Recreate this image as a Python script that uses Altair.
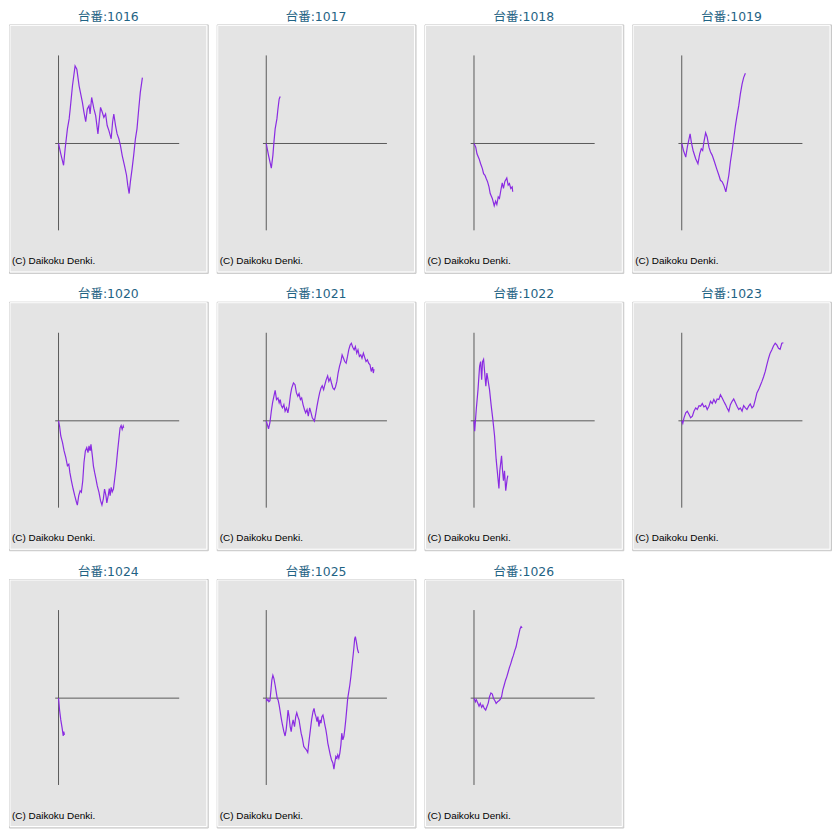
import altair as alt
import pandas as pd

# ---------------- data (games played vs. coin difference) ----------------
MACHINES = ["1016", "1017", "1018", "1019", "1020", "1021",
            "1022", "1023", "1024", "1025", "1026"]

G_1016 = [0, 130, 290, 380, 510, 610, 670, 800, 950, 1050, 1180, 1370, 1460, 1560,
          1650, 1750, 1810, 1900, 2030, 2130, 2260, 2410, 2510, 2600, 2700, 2790,
          2890, 3020, 3100, 3170, 3270, 3360, 3460, 3550, 3650, 3780, 3900, 3970,
          4050, 4120, 4220, 4310, 4410, 4500, 4600, 4690, 4810]
D_1016 = [0, -590, -1250, -300, 840, 1410, 1980, 3310, 4450, 4260, 3310, 2360, 1790,
          1250, 1980, 2170, 1690, 2640, 1980, 1600, 550, 2070, 1790, 1500, 1690, 1030,
          740, 270, 1220, 1690, 1030, 550, 270, -110, -680, -1250, -1820, -2390,
          -2870, -2200, -1440, -680, 270, 840, 1980, 2930, 3780]

G_1017 = [0, 130, 290, 380, 440, 510, 610, 670, 740, 800]
D_1017 = [0, -680, -1410, -680, 80, 840, 1410, 1980, 2550, 2700]

G_1018 = [0, 100, 170, 290, 380, 480, 550, 630, 700, 780, 860, 930, 1050, 1160,
          1240, 1310, 1390, 1460, 1540, 1620, 1690, 1770, 1880, 1960, 2030, 2110,
          2190, 2220]
D_1018 = [0, -210, -590, -870, -1160, -1440, -1730, -1820, -2010, -2200, -2490,
          -2870, -3150, -3570, -3310, -3500, -3060, -3150, -2680, -2260, -2580,
          -2170, -1980, -2390, -2300, -2580, -2490, -2770]

G_1019 = [0, 100, 230, 320, 420, 480, 550, 650, 800, 930, 1030, 1120, 1200, 1270,
          1370, 1460, 1560, 1650, 1750, 1880, 2000, 2130, 2220, 2320, 2410, 2530,
          2600, 2700, 2790, 2890, 2980, 3080, 3170, 3270, 3360, 3460, 3550, 3650]
D_1019 = [0, -400, -780, -210, 270, 550, 80, -400, -870, -1160, -590, -300, -400,
          80, 610, 360, -210, -490, -680, -1060, -1440, -1820, -2110, -2200, -2390,
          -2770, -2390, -1820, -1060, -400, 270, 1030, 1600, 2170, 2830, 3400, 3780,
          4030]

G_1020 = [0, 60, 130, 230, 320, 420, 510, 590, 650, 740, 840, 930, 1030, 1080, 1160,
          1240, 1310, 1390, 1460, 1540, 1620, 1690, 1750, 1810, 1860, 1940, 2000,
          2070, 2150, 2220, 2320, 2410, 2490, 2570, 2640, 2720, 2770, 2850, 2910,
          2960, 3020, 3080, 3150, 3230, 3310, 3380, 3460, 3530, 3590, 3650, 3710,
          3740]
D_1020 = [0, -300, -870, -1250, -1730, -2110, -2580, -2490, -2960, -3440, -3910,
          -4290, -4670, -4830, -4290, -4010, -4100, -3440, -2390, -1730, -1540,
          -1820, -1440, -1730, -1350, -2010, -2580, -2960, -3340, -3720, -4100,
          -4580, -4830, -4480, -3910, -4290, -4710, -4290, -3880, -4290, -3820,
          -4070, -3910, -3250, -2580, -1820, -1060, -400, -270, -490, -300, -400]

G_1021 = [0, 60, 130, 210, 290, 360, 440, 510, 590, 670, 740, 800, 860, 930, 1010,
          1080, 1160, 1240, 1310, 1390, 1460, 1560, 1650, 1730, 1810, 1880, 1960,
          2030, 2110, 2190, 2260, 2340, 2410, 2490, 2570, 2640, 2760, 2830, 2910,
          2980, 3060, 3140, 3210, 3290, 3360, 3440, 3520, 3590, 3670, 3740, 3820,
          3900, 3970, 4050, 4120, 4200, 4280, 4350, 4430, 4500, 4580, 4660, 4730,
          4810, 4880, 4960, 5040, 5110, 5190, 5260, 5340, 5420, 5490, 5570, 5640,
          5720, 5800, 5870, 5950, 6020, 6100, 6140, 6180]
D_1021 = [0, -210, -460, -110, 550, 1030, 1410, 1750, 1220, 1310, 1030, 1220, 870,
          740, 930, 550, 740, 460, 840, 1500, 1880, 2170, 2070, 1600, 1410, 1560,
          1220, 1310, 930, 650, 460, 650, 270, 740, 460, 170, -20, 360, 840, 1220,
          1600, 1880, 2010, 1790, 2070, 2360, 2580, 2260, 2450, 2170, 1880, 1790,
          1940, 2260, 2740, 3120, 3400, 3780, 3590, 3400, 3310, 3690, 4070, 4350,
          4450, 4220, 4070, 4260, 3880, 4070, 3690, 3780, 3590, 3880, 3650, 3400,
          3500, 3310, 3210, 2830, 3080, 2740, 2960]

G_1022 = [0, 40, 130, 230, 320, 380, 440, 490, 550, 630, 680, 740, 800, 890, 990,
          1080, 1180, 1270, 1370, 1430, 1480, 1580, 1630, 1690, 1750, 1820, 1900,
          1940]
D_1022 = [0, -590, 650, 1790, 3120, 3400, 2360, 3400, 3530, 2550, 1980, 2740, 2360,
          1790, 840, 80, -870, -2200, -3250, -3880, -2870, -2010, -2770, -3440,
          -2870, -4010, -3340, -3150]

G_1023 = [0, 60, 130, 230, 320, 420, 510, 610, 700, 800, 890, 990, 1080, 1180,
          1270, 1370, 1460, 1560, 1650, 1750, 1840, 1940, 2030, 2130, 2220, 2320,
          2410, 2510, 2600, 2700, 2790, 2890, 2980, 3080, 3170, 3270, 3360, 3460,
          3550, 3650, 3740, 3840, 3930, 4030, 4120, 4220, 4310, 4410, 4500, 4600,
          4690, 4790, 4880, 4980, 5070, 5170, 5260, 5360, 5450, 5550, 5640, 5740,
          5830]
D_1023 = [0, -150, 170, 460, 550, 360, 170, 270, 550, 740, 650, 870, 840, 990, 800,
          870, 650, 840, 1120, 990, 1220, 1030, 1250, 1220, 1500, 1310, 1120, 930,
          740, 550, 930, 1120, 1250, 1030, 840, 650, 740, 550, 870, 740, 650, 840,
          970, 740, 840, 1220, 1600, 1790, 2010, 2260, 2510, 2830, 3210, 3590, 3880,
          4070, 4290, 4450, 4350, 4160, 4100, 4450, 4480]

G_1024 = [0, 60, 130, 210, 270, 300, 340]
D_1024 = [0, -680, -1250, -1730, -2170, -1920, -2110]

G_1025 = [0, 40, 100, 150, 210, 270, 320, 380, 440, 510, 570, 630, 680, 740, 800,
          860, 930, 1010, 1080, 1140, 1200, 1250, 1310, 1370, 1430, 1480, 1540,
          1620, 1690, 1750, 1810, 1880, 1940, 2000, 2070, 2150, 2220, 2300, 2380,
          2450, 2530, 2600, 2680, 2740, 2790, 2850, 2910, 2960, 3020, 3080, 3140,
          3190, 3250, 3310, 3360, 3420, 3480, 3530, 3590, 3670, 3740, 3820, 3880,
          3930, 3990, 4050, 4100, 4160, 4220, 4280, 4330, 4390, 4450, 4500, 4560,
          4620, 4670, 4730, 4790, 4850, 4900, 4960, 5020, 5070, 5110, 5170, 5230,
          5260, 5300]
D_1025 = [0, -150, -80, -210, -150, 460, 1030, 1310, 1120, 740, 360, -20, -110,
          -400, -780, -1160, -1540, -1920, -2170, -1820, -1250, -680, -1060, -1630,
          -1920, -1540, -1250, -1630, -1060, -840, -1060, -1250, -1630, -2010,
          -2300, -2770, -2870, -2960, -3120, -2490, -1820, -1250, -780, -590, -870,
          -1060, -1350, -1060, -1630, -1250, -1440, -1060, -970, -1250, -1540,
          -1820, -2200, -2580, -2870, -3250, -3530, -3720, -4070, -3720, -3340,
          -3440, -3250, -3440, -3150, -2680, -2010, -2390, -2200, -1820, -1250,
          -590, -20, 360, 740, 1220, 1690, 2260, 2830, 3400, 3530, 3210, 2830, 2700,
          2580]

G_1026 = [0, 80, 130, 210, 290, 360, 440, 510, 590, 670, 740, 820, 890, 970, 1050,
          1120, 1200, 1270, 1350, 1430, 1500, 1580, 1650, 1730, 1810, 1880, 1960,
          2030, 2110, 2190, 2260, 2340, 2410, 2490, 2570, 2640, 2700, 2760]
D_1026 = [0, -210, -80, -270, -460, -300, -530, -400, -590, -680, -490, -270, 80,
          300, 230, -20, -150, -300, -210, -150, -80, 80, 460, 740, 1030, 1220, 1500,
          1750, 1980, 2260, 2450, 2740, 2930, 3310, 3650, 3970, 4100, 4030]

SERIES = {
    "1016": (G_1016, D_1016), "1017": (G_1017, D_1017), "1018": (G_1018, D_1018),
    "1019": (G_1019, D_1019), "1020": (G_1020, D_1020), "1021": (G_1021, D_1021),
    "1022": (G_1022, D_1022), "1023": (G_1023, D_1023), "1024": (G_1024, D_1024),
    "1025": (G_1025, D_1025), "1026": (G_1026, D_1026),
}

AXIS_G = [-190, 6920]      # extent of the zero line (games)
AXIS_D = [-4980, 5050]     # extent of the vertical axis (coins)
X_DOMAIN = [-2840, 8560]
Y_DOMAIN = [-7420, 6830]
TITLE_PREFIX = "台番:"
CREDIT = "(C) Daikoku Denki."

W, H = 200, 250
AXIS_COLOR = "#5a5a5a"
LINE_COLOR = "#8a2be2"
TITLE_COLOR = "#1f6384"


def panel(num):
    g, d = SERIES[num]
    df = pd.DataFrame({"g": g, "d": d, "i": list(range(len(g)))})
    xs = alt.Scale(domain=X_DOMAIN, nice=False, zero=False)
    ys = alt.Scale(domain=Y_DOMAIN, nice=False, zero=False)

    frame = alt.Chart(pd.DataFrame({"k": [0]})).mark_rect(
        fillOpacity=0, stroke="#ffffff", strokeWidth=1
    ).encode(x=alt.value(1), x2=alt.value(W - 1), y=alt.value(1), y2=alt.value(H - 1))

    hline = alt.Chart(
        pd.DataFrame({"g": [AXIS_G[0]], "g2": [AXIS_G[1]], "d": [0]})
    ).mark_rule(color=AXIS_COLOR, strokeWidth=1).encode(
        x=alt.X("g:Q", scale=xs, axis=None),
        x2="g2:Q",
        y=alt.Y("d:Q", scale=ys, axis=None),
    )

    vline = alt.Chart(
        pd.DataFrame({"g": [0], "d": [AXIS_D[0]], "d2": [AXIS_D[1]]})
    ).mark_rule(color=AXIS_COLOR, strokeWidth=1).encode(
        x=alt.X("g:Q", scale=xs, axis=None),
        y=alt.Y("d:Q", scale=ys, axis=None),
        y2="d2:Q",
    )

    line = alt.Chart(df).mark_line(color=LINE_COLOR, strokeWidth=1.2).encode(
        x=alt.X("g:Q", scale=xs, axis=None),
        y=alt.Y("d:Q", scale=ys, axis=None),
        order="i:Q",
    )

    credit = alt.Chart(pd.DataFrame({"t": [CREDIT]})).mark_text(
        align="left", baseline="middle", fontSize=10, font="Liberation Sans",
        color="#000000"
    ).encode(text="t:N", x=alt.value(3), y=alt.value(H - 12))

    return alt.layer(frame, hline, vline, line, credit).properties(
        width=W,
        height=H,
        title=alt.TitleParams(
            TITLE_PREFIX + num,
            color=TITLE_COLOR,
            fontSize=12.5,
            font="DejaVu Sans, Noto Sans CJK JP",
            fontWeight="normal",
            anchor="middle",
            offset=1,
        ),
    )


chart = alt.concat(
    *[panel(n) for n in MACHINES], columns=4,
    spacing={"row": 14, "column": 7},
).properties(
    padding={"left": 0, "top": 0, "right": 0, "bottom": 0},
    background="#ffffff",
).configure_view(
    fill="#e4e4e4", stroke="#c8c8c8", strokeWidth=1
)

chart.save("out.html", embed_options={"renderer": "svg", "actions": False})
